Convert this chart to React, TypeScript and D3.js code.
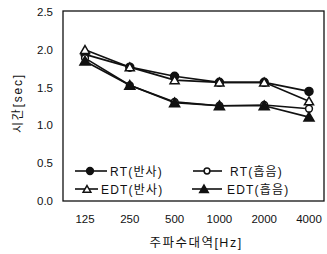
import React, { useRef, useEffect } from 'react'
import * as d3 from 'd3'

const bands = ['125', '250', '500', '1000', '2000', '4000']
const rtReflect = [1.94, 1.77, 1.65, 1.57, 1.57, 1.45]
const rtAbsorb = [1.89, 1.53, 1.31, 1.26, 1.27, 1.22]
const edtReflect = [2.0, 1.77, 1.6, 1.57, 1.57, 1.32]
const edtAbsorb = [1.85, 1.53, 1.3, 1.26, 1.26, 1.11]
const yTicks = [0, 0.5, 1.0, 1.5, 2.0, 2.5]

const series = [
  { name: 'RT(반사)', values: rtReflect, shape: 'circle', filled: true },
  { name: 'RT(흡음)', values: rtAbsorb, shape: 'circle', filled: false },
  { name: 'EDT(반사)', values: edtReflect, shape: 'triangle', filled: false },
  { name: 'EDT(흡음)', values: edtAbsorb, shape: 'triangle', filled: true },
]

// legend placement: [line start, line end, marker x, text x, row y]
const legendPos = [
  [75, 107, 90, 110, 171],
  [193, 222, 207, 230, 171],
  [75, 98, 87, 101, 189],
  [192, 222, 204, 227, 189],
]

export default function App() {
  const svgRef = useRef<SVGSVGElement>(null)

  useEffect(() => {
    if (!svgRef.current) return
    const svg = d3.select(svgRef.current)
    svg.selectAll('*').remove()

    const width = 327
    const height = 254
    const left = 63, right = 324, top = 12, bottom = 201
    const font = '"Liberation Sans", Arial, sans-serif'
    const kfont = '"Liberation Sans", "Noto Sans CJK KR", sans-serif'

    svg.append('rect').attr('width', width).attr('height', height).attr('fill', '#fff')

    const x = d3.scalePoint<string>().domain(bands).range([85, 309])
    const y = d3.scaleLinear().domain([0, 2.5]).range([bottom, top])

    // frame
    svg.append('rect')
      .attr('x', left).attr('y', top - 1)
      .attr('width', right - left).attr('height', bottom - top + 1)
      .attr('fill', 'none').attr('stroke', '#111').attr('stroke-width', 1.3)

    // y tick labels
    svg.append('g').selectAll('text').data(yTicks).enter().append('text')
      .attr('x', 53).attr('y', d => y(d)).attr('dy', '0.35em')
      .attr('text-anchor', 'end')
      .attr('font-family', font).attr('font-size', 11.5).attr('fill', '#111')
      .text(d => d.toFixed(1))

    // x tick labels
    svg.append('g').selectAll('text').data(bands).enter().append('text')
      .attr('x', d => x(d)!).attr('y', 223)
      .attr('text-anchor', 'middle')
      .attr('font-family', font).attr('font-size', 11.5).attr('fill', '#111')
      .text(d => d)

    // axis titles
    svg.append('text')
      .attr('transform', 'translate(22,103) rotate(-90)')
      .attr('text-anchor', 'middle')
      .attr('font-family', kfont).attr('font-size', 12).attr('letter-spacing', 1.8).attr('fill', '#111')
      .text('시간[sec]')
    svg.append('text')
      .attr('x', 196).attr('y', 247)
      .attr('text-anchor', 'middle')
      .attr('font-family', kfont).attr('font-size', 12.5).attr('letter-spacing', 1.5).attr('fill', '#111')
      .text('주파수대역[Hz]')

    const line = d3.line<number>()
      .x((_, i) => x(bands[i])!)
      .y(d => y(d))

    const drawMarker = (g: any, cx: number, cy: number, shape: string, filled: boolean, k = 1) => {
      if (shape === 'circle') {
        g.append('circle').attr('cx', cx).attr('cy', cy).attr('r', (filled ? 4 : 3.4) * k)
          .attr('fill', filled ? '#111' : '#fff').attr('stroke', '#111').attr('stroke-width', 1.5)
      } else {
        const sym = d3.symbol().type(d3.symbolTriangle).size((filled ? 44 : 36) * k * k)
        g.append('path').attr('d', sym()!)
          .attr('transform', `translate(${cx},${cy + 1})`)
          .attr('fill', filled ? '#111' : '#fff').attr('stroke', '#111').attr('stroke-width', 1.5)
      }
    }

    const plot = svg.append('g')
    series.forEach(s => {
      plot.append('path').datum(s.values)
        .attr('d', line)
        .attr('fill', 'none').attr('stroke', '#111').attr('stroke-width', 1.7)
    })
    series.forEach(s => {
      const g = plot.append('g')
      s.values.forEach((v, i) => drawMarker(g, x(bands[i])!, y(v), s.shape, s.filled))
    })

    // legend
    const legend = svg.append('g')
    series.forEach((s, i) => {
      const [x1, x2, mx, tx, ly] = legendPos[i]
      legend.append('line')
        .attr('x1', x1).attr('x2', x2).attr('y1', ly).attr('y2', ly)
        .attr('stroke', '#111').attr('stroke-width', 1.6)
      drawMarker(legend, mx, ly, s.shape, s.filled, 0.85)
      legend.append('text')
        .attr('x', tx).attr('y', ly).attr('dy', '0.38em')
        .attr('font-family', kfont).attr('font-size', 12).attr('letter-spacing', 1.2).attr('fill', '#111')
        .text(s.name)
    })
  }, [])

  return (
    <svg ref={svgRef} width={327} height={254}
      style={{ position: 'absolute', left: 0, top: 0, display: 'block' }} />
  )
}
